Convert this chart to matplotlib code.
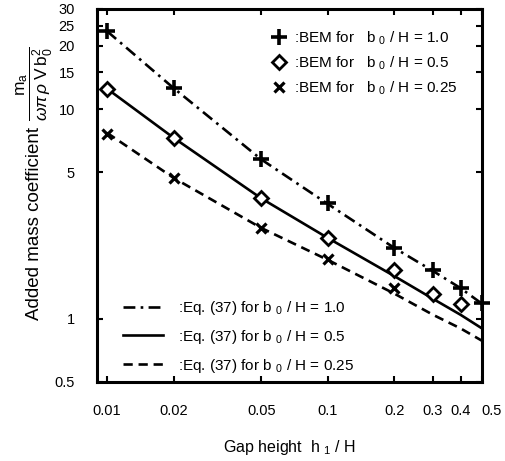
import matplotlib
matplotlib.use("Agg")
import matplotlib.pyplot as plt
import matplotlib.transforms as mtransforms

plt.rcParams["font.family"] = ["Liberation Sans", "DejaVu Sans"]
plt.rcParams["mathtext.fontset"] = "custom"
plt.rcParams["mathtext.rm"] = "Liberation Sans"
plt.rcParams["mathtext.it"] = "Liberation Sans:italic"

# BEM results (markers)
h_bem_10 = [0.01, 0.02, 0.05, 0.1, 0.2, 0.3, 0.4, 0.5]
bem_10 = [23.5, 12.6, 5.75, 3.55, 2.18, 1.70, 1.41, 1.19]
h_bem_05 = [0.01, 0.02, 0.05, 0.1, 0.2, 0.3, 0.4]
bem_05 = [12.5, 7.3, 3.75, 2.43, 1.71, 1.32, 1.18]
h_bem_025 = [0.01, 0.02, 0.05, 0.1, 0.2]
bem_025 = [7.6, 4.7, 2.71, 1.92, 1.41]

# Eq. (37) curves
h_eq = [0.01, 0.02, 0.05, 0.1, 0.2, 0.3, 0.4, 0.5]
eq_10 = [23.5, 12.6, 5.75, 3.53, 2.18, 1.69, 1.40, 1.18]
eq_05 = [12.5, 7.3, 3.75, 2.43, 1.60, 1.245, 1.045, 0.90]
eq_025 = [7.7, 4.7, 2.71, 1.91, 1.32, 1.045, 0.90, 0.786]

x_ticks = [0.01, 0.02, 0.05, 0.1, 0.2, 0.3, 0.4, 0.5]
x_ticklabels = ["0.01", "0.02", "0.05", "0.1", "0.2", "0.3", "0.4", "0.5"]
y_ticks = [0.5, 1, 5, 10, 15, 20, 25, 30]
y_ticklabels = ["0.5", "1", "5", "10", "15", "20", "25", "30"]

sub0 = r"b $_{\mathregular{0}}$ / H = "
bem_labels = [":BEM for   " + sub0 + "1.0", ":BEM for   " + sub0 + "0.5", ":BEM for   " + sub0 + "0.25"]
eq_labels = [":Eq. (37) for " + sub0 + "1.0", ":Eq. (37) for " + sub0 + "0.5", ":Eq. (37) for " + sub0 + "0.25"]

fig = plt.figure(figsize=(5.06, 4.61), dpi=100)
ax = fig.add_axes([0.1917, 0.1714, 0.7609, 0.8091])

lw = 1.9
l10, = ax.plot(h_eq, eq_10, color="black", lw=lw, dashes=(4.5, 2, 1, 2))
l05, = ax.plot(h_eq, eq_05, color="black", lw=lw)
l025, = ax.plot(h_eq, eq_025, color="black", lw=lw, dashes=(3.5, 2.2))

m10, = ax.plot(h_bem_10, bem_10, ls="none", marker="+", ms=12, mew=2.6, color="black", clip_on=False)
m05, = ax.plot(h_bem_05, bem_05, ls="none", marker="D", ms=7.5, mew=2.0, mfc="white", mec="black", clip_on=False)
m025, = ax.plot(h_bem_025, bem_025, ls="none", marker="x", ms=7.5, mew=2.3, color="black", clip_on=False)

ax.set_xscale("log")
ax.set_yscale("log")
ax.set_xlim(0.009, 0.5)
ax.set_ylim(0.5, 30)

ax.set_xticks(x_ticks)
ax.set_xticklabels(x_ticklabels)
ax.set_yticks(y_ticks)
ax.set_yticklabels(y_ticklabels)
ax.minorticks_off()
ax.tick_params(direction="in", length=4, width=1.5, top=True, right=True, labelsize=10.5)
ax.tick_params(axis="x", pad=16)
ax.tick_params(axis="y", pad=16)
for s in ax.spines.values():
    s.set_linewidth(2.2)

# last x label sits a little to the right in the original
lab = ax.get_xticklabels()[-1]
lab.set_transform(lab.get_transform() + mtransforms.ScaledTranslation(0.1, 0, fig.dpi_scale_trans))

ax.set_xlabel(r"Gap height  h $_{\mathregular{1}}$ / H", fontsize=11.5, labelpad=14)
ax.set_ylabel("Added mass coefficient", fontsize=13.5)
ax.yaxis.set_label_coords(-0.14, 0.425)
ax.text(-0.162, 0.80,
        r"$\dfrac{\mathregular{m}_{\mathregular{a}}}{\omega\pi\,\rho\;\mathregular{V\,b}_{\mathregular{0}}^{\mathregular{2}}}$",
        transform=ax.transAxes, rotation=90, ha="center", va="center", fontsize=12.5)

leg1 = ax.legend([m10, m05, m025], bem_labels, loc="upper left", bbox_to_anchor=(0.452, 0.945),
                 frameon=False, fontsize=11, handlelength=1.0, handletextpad=0.5,
                 labelspacing=0.5, borderpad=0, borderaxespad=0)
ax.add_artist(leg1)
ax.legend([l10, l05, l025], eq_labels, loc="lower left", bbox_to_anchor=(0.068, 0.02),
          frameon=False, fontsize=11, handlelength=2.6, handletextpad=1.0,
          labelspacing=0.7, borderpad=0, borderaxespad=0)

fig.savefig("out.png", dpi=100)
